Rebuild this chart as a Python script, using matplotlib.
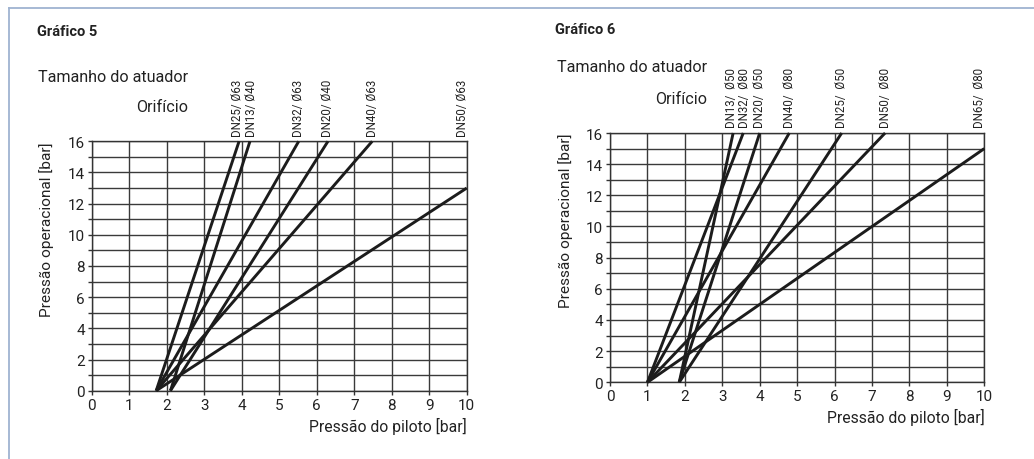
import matplotlib
matplotlib.use("Agg")
import matplotlib.pyplot as plt
from matplotlib.lines import Line2D

plt.rcParams['font.family'] = ['Roboto', 'DejaVu Sans']

# ---- data: Gráfico 5 ----
g5_labels = ["DN25/ Ø63", "DN13/ Ø40", "DN32/ Ø63", "DN20/ Ø40", "DN40/ Ø63", "DN50/ Ø63"]
g5_x_start = [1.72, 2.10, 1.72, 2.10, 1.72, 1.72]
g5_x_end = [3.93, 4.22, 5.52, 6.30, 7.48, 10.0]
g5_y_end = [16, 16, 16, 16, 16, 13]

# ---- data: Gráfico 6 ----
g6_labels = ["DN13/  Ø50", "DN32/  Ø80", "DN20/  Ø50", "DN40/  Ø80", "DN25/  Ø50", "DN50/  Ø80", "DN65/  Ø80"]
g6_x_start = [1.85, 1.00, 1.85, 1.00, 1.85, 1.00, 1.00]
g6_x_end = [3.29, 3.56, 4.00, 4.79, 6.19, 7.35, 10.0]
g6_y_end = [16, 16, 16, 16, 16, 16, 15]

x_ticks = list(range(0, 11))
y_ticks = list(range(0, 17, 2))

titles = ["Gráfico 5", "Gráfico 6"]
xlabel = "Pressão do piloto [bar]"
ylabel = "Pressão operacional [bar]"
head1 = "Tamanho do atuador"
head2 = "Orifício"

W, H = 1034, 460
fig = plt.figure(figsize=(W / 100, H / 100), dpi=100)


def fx(px):
    return px / W


def fy(py):
    return 1 - py / H


def spread(xs, min_sep):
    """Nudge label anchor positions apart so rotated labels do not collide."""
    pos = [min(x, 9.88) for x in xs]
    order = sorted(range(len(pos)), key=lambda k: pos[k])
    for _ in range(20):
        moved = False
        for a, b in zip(order[:-1], order[1:]):
            gap = pos[b] - pos[a]
            if gap < min_sep:
                d = (min_sep - gap) / 2
                pos[a] -= d
                pos[b] += d
                moved = True
        if not moved:
            break
    return pos


# light frame lines
fig.add_artist(Line2D([fx(9), fx(9)], [fy(9), 0], color='#9fb3d1', lw=1.3))
fig.add_artist(Line2D([fx(9), 1], [fy(9), fy(9)], color='#9fb3d1', lw=1.3))

panels = [
    dict(rect=(91.7, 142.3, 466.7, 391.7), labels=g5_labels, xs=g5_x_start, xe=g5_x_end, ye=g5_y_end,
         title_xy=(37, 32), head1_xy=(188, 78), head2_xy=(188, 108)),
    dict(rect=(610, 134, 984.3, 383.3), labels=g6_labels, xs=g6_x_start, xe=g6_x_end, ye=g6_y_end,
         title_xy=(555, 30), head1_xy=(707, 68), head2_xy=(707, 99)),
]

for i, p in enumerate(panels):
    l, t, r, b = p['rect']
    ax = fig.add_axes([fx(l), fy(b), (r - l) / W, (b - t) / H])
    ax.set_xlim(0, 10)
    ax.set_ylim(0, 16)
    ax.set_xticks(x_ticks)
    ax.set_yticks(y_ticks)
    ax.set_yticks(list(range(1, 16, 2)), minor=True)
    ax.tick_params(axis='both', which='both', direction='out', length=3, width=1.0,
                   color='#333333', labelsize=11, pad=2, labelcolor='#222222')
    ax.grid(True, which='both', color='#3a3a3a', lw=1.0)
    ax.set_axisbelow(True)
    for s in ax.spines.values():
        s.set_color('#333333')
        s.set_linewidth(1.0)
    for x0, x1, y1 in zip(p['xs'], p['xe'], p['ye']):
        ax.plot([x0, x1], [0, y1], color='#1c1c1c', lw=2.1, solid_capstyle='butt',
                clip_on=False, zorder=3)
    lab_pos = spread(p['xe'], 0.36)
    for lab, lx in zip(p['labels'], lab_pos):
        ax.annotate(lab, xy=(lx, 16), xytext=(0, 4), textcoords='offset points',
                    rotation=90, ha='center', va='bottom', fontsize=8.3, color='#222222',
                    annotation_clip=False)
    ax.text(1.0, -0.105, xlabel, transform=ax.transAxes, ha='right', va='top',
            fontsize=11.3, color='#222222')
    ax.text(-0.12, 1.0, ylabel, transform=ax.transAxes, ha='center', va='top',
            rotation=90, fontsize=11.1, color='#222222')
    tx, ty = p['title_xy']
    fig.text(fx(tx), fy(ty), titles[i], ha='left', va='center', fontsize=10.5,
             fontweight='bold', color='#222222')
    hx, hy = p['head1_xy']
    fig.text(fx(hx), fy(hy), head1, ha='right', va='center', fontsize=11.6, color='#222222')
    hx, hy = p['head2_xy']
    fig.text(fx(hx), fy(hy), head2, ha='right', va='center', fontsize=11.6, color='#222222')

fig.savefig('out.png', dpi=100, facecolor='white')
